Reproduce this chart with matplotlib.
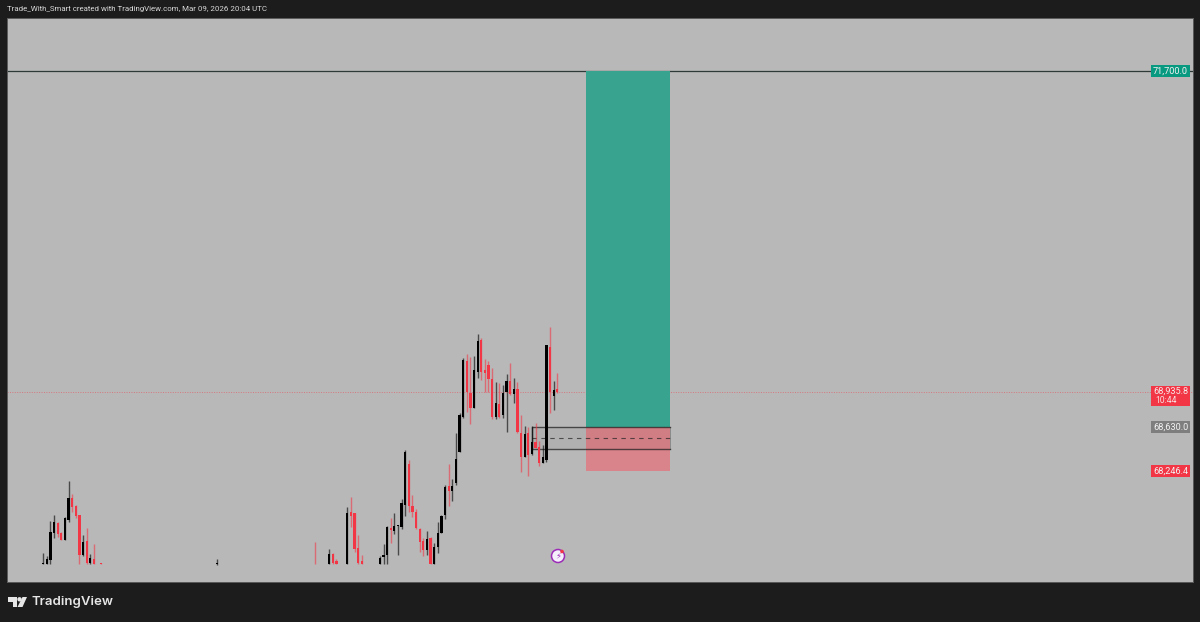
import matplotlib
matplotlib.use("Agg")
import matplotlib.pyplot as plt
from matplotlib.patches import Rectangle, Polygon, Circle
from matplotlib.transforms import blended_transform_factory

# candles: bar number, open, high, low, close
bar_idx = [0, 1, 2, 3, 4, 5, 6, 7, 8, 9, 10, 11, 12, 13, 14, 16, 48, 75, 79, 80, 81,
           84, 85, 86, 87, 88, 93, 94, 95, 96, 97, 98, 99, 100, 101, 102, 103, 104, 105,
           106, 107, 108, 109, 110, 111, 112, 113, 114, 115, 116, 117, 118, 119, 120,
           121, 122, 123, 124, 125, 126, 127, 128, 129, 130, 131, 132, 133, 134, 135,
           136, 137, 138, 139, 140, 141, 142]
opens = [67446, 67451, 67483, 67719, 67805, 67713, 67656, 67828, 68015, 67949, 67871, 67526, 67647, 67460, 67489, 67458, 67450, 67452, 67446, 67532, 67475,
         67446, 67900, 67886, 67584, 67477, 67446, 67506, 67526, 67756, 67736, 67773, 67765, 67957, 68311, 67949, 67900, 67748, 67647,
         67569, 67670, 67446, 67593, 67719, 67871, 68121, 68081, 68147, 68417, 68719, 69202, 68926, 68796, 69107,
         69380, 69121, 69165, 69041, 68714, 68828, 68733, 68934, 69029, 68915, 68955, 68581, 68374, 68576, 68397,
         68503, 68460, 68322, 68345, 69322, 68897, 68955]
highs = [67541, 67518, 67822, 67871, 67813, 67727, 67851, 68167, 68052, 67957, 67871, 67699, 67756, 67535, 67621, 67460, 67489, 67641, 67575, 67541, 67489,
         67943, 68024, 67891, 67699, 67526, 67518, 67621, 67776, 67843, 67886, 67785, 68007, 68432, 68345, 68044, 67920, 67756, 67670,
         67736, 67684, 67632, 67813, 67871, 68130, 68311, 68179, 68578, 68753, 69225, 69259, 69231, 69242, 69432,
         69395, 69214, 69202, 69136, 69021, 69012, 68992, 69087, 69184, 69050, 69021, 68733, 68639, 68627, 68639,
         68667, 68512, 68475, 69337, 69495, 69027, 69098]
lows = [67446, 67446, 67446, 67670, 67684, 67656, 67656, 67808, 67900, 67843, 67446, 67518, 67446, 67446, 67446, 67449, 67443, 67446, 67446, 67446, 67446,
        67446, 67770, 67555, 67446, 67446, 67446, 67446, 67446, 67632, 67707, 67526, 67748, 67863, 67897, 67856, 67748, 67555, 67518,
        67526, 67446, 67446, 67546, 67713, 67834, 67949, 67994, 68130, 68417, 68708, 68762, 68656, 68791, 69053,
        69035, 68934, 68934, 68696, 68696, 68705, 68705, 68589, 68906, 68834, 68576, 68245, 68369, 68207, 68389,
        68446, 68296, 68317, 68331, 68753, 68777, 68926]
closes = [67460, 67494, 67727, 67813, 67705, 67656, 67843, 68020, 67943, 67863, 67526, 67641, 67455, 67498, 67446, 67450, 67458, 67447, 67535, 67455, 67449,
          67891, 67863, 67575, 67455, 67446, 67498, 67526, 67770, 67742, 67776, 67785, 67972, 68414, 67949, 67900, 67756, 67641, 67569,
          67662, 67446, 67593, 67719, 67865, 68115, 68081, 68121, 68354, 68733, 69208, 68934, 68791, 69121, 69374,
          69107, 69093, 69041, 68719, 68834, 68719, 68926, 69029, 68915, 68958, 68589, 68374, 68570, 68389, 68503,
          68446, 68317, 68374, 69337, 68934, 68949, 68932]

# price levels
target_price = 71700.0
last_price = 68935.8
entry_price = 68630.0
stop_price = 68246.4
zone_top = 68626
zone_mid = 68533
zone_bottom = 68440
position_start = 150
position_end = 173
zone_start = 135
countdown = "10:44"

BG = "#1c1c1c"
PANE = "#b8b8b8"
RED = "#f23645"
GREEN = "#089981"

fig = plt.figure(figsize=(12, 6.22), dpi=100, facecolor=BG)
plt.rcParams["font.family"] = ["Roboto", "DejaVu Sans"]

ax = fig.add_axes([7 / 1200, 1 - 582 / 622, 1186 / 1200, 564 / 622], facecolor=PANE)
ax.set_xlim(-10, 317.6)
ax.set_ylim(67293.4, 72157)
ax.set_xticks([])
ax.set_yticks([])
for s in ax.spines.values():
    s.set_color("#5a5a5a")
    s.set_linewidth(0.7)

# price lines
ax.axhline(target_price, color="#2e3a38", lw=0.9, zorder=1)
ax.axhline(last_price, color=RED, lw=0.7, ls=(0, (1, 1.5)), alpha=0.5, zorder=1)

# long position box and the zone
ax.add_patch(Rectangle((position_start, entry_price), position_end - position_start,
                       target_price - entry_price, fc="#38a38f", ec="none", zorder=2))
ax.add_patch(Rectangle((position_start, stop_price), position_end - position_start,
                       entry_price - stop_price, fc="#d9838a", ec="none", zorder=2))
ax.add_patch(Rectangle((zone_start, zone_bottom), position_end - zone_start,
                       zone_top - zone_bottom, fc="#000000", alpha=0.04, ec="none", zorder=3))
ax.plot([position_end, zone_start, zone_start, position_end],
        [zone_top, zone_top, zone_bottom, zone_bottom],
        color="#222222", lw=1.0, alpha=0.75, zorder=3)
ax.plot([position_end, position_end], [zone_bottom, zone_top], color="#222222", lw=0.7,
        alpha=0.3, zorder=3)
ax.plot([zone_start, position_end], [zone_mid, zone_mid], color="#222222", lw=0.8,
        ls=(0, (4, 4)), alpha=0.7, zorder=3)

# candles
for i, o, h, l, c in zip(bar_idx, opens, highs, lows, closes):
    col = "#000000" if c >= o else RED
    ax.vlines(i, l, h, color=col, lw=1.0, alpha=0.6, zorder=4)
    ax.bar(i, abs(c - o), bottom=min(o, c), width=0.62, color=col, linewidth=0, zorder=5)

# price tags on the right
trans = blended_transform_factory(ax.transAxes, ax.transData)
tag_left, tag_w = 0.9646, 0.033
tags = [(target_price, "71,700.0", GREEN, 12), (entry_price, "68,630.0", "#7e7e7e", 12),
        (stop_price, "68,246.4", RED, 12)]
px_to_price = 8.623
for price, label, col, hgt in tags:
    ax.add_patch(Rectangle((tag_left, price - hgt / 2 * px_to_price), tag_w, hgt * px_to_price,
                           transform=trans, fc=col, ec="none", zorder=6))
    ax.text(tag_left + tag_w / 2, price, label, transform=trans, color="#f2f2f2", fontsize=6.6,
            ha="center", va="center", zorder=7)
ax.add_patch(Rectangle((tag_left, last_price - 14.5 * px_to_price), tag_w, 20.5 * px_to_price,
                       transform=trans, fc=RED, ec="none", zorder=6))
ax.text(tag_left + tag_w / 2, last_price, f"{last_price:,.1f}", transform=trans, color="#f7e8e8",
        fontsize=6.6, ha="center", va="center", zorder=7)
ax.text(tag_left + 0.004, last_price - 9 * px_to_price, countdown, transform=trans, color="#f7e0e0",
        fontsize=6.2, ha="left", va="center", zorder=7)

# overlay in pixel coordinates for header, logo and the icon
ov = fig.add_axes([0, 0, 1, 1], facecolor="none")
ov.set_xlim(0, 1200)
ov.set_ylim(622, 0)
ov.axis("off")
ov.text(7, 9.5, "Trade_With_Smart created with TradingView.com, Mar 09, 2026 20:04 UTC",
        color="#d8d8d8", fontsize=5.7, ha="left", va="center")

ov.add_patch(Circle((558, 556), 6.5, fc="#f4effa", ec="#9c2bb8", lw=1.1))
ov.text(558, 556, "\u26a1", color="#9c2bb8", fontsize=6, ha="center", va="center",
        family="DejaVu Sans")
ov.add_patch(Circle((562, 551.5), 1.8, fc=RED, ec="none"))

logo = "#e6e6e6"
ov.add_patch(Polygon([(8, 597), (17, 597), (17, 607), (12.5, 607), (12.5, 601.5), (8, 601.5)],
                     fc=logo, ec="none"))
ov.add_patch(Circle((19.5, 599.3), 2.2, fc=logo, ec="none"))
ov.add_patch(Polygon([(22.5, 597), (27, 597), (22.5, 607), (17.5, 607)], fc=logo, ec="none"))
ov.text(32, 602.5, "TradingView", color="#e6e6e6", fontsize=9.5, fontweight="semibold",
        ha="left", va="center", family=["Inter", "DejaVu Sans"])

fig.savefig("out.png", dpi=100, facecolor=BG)
